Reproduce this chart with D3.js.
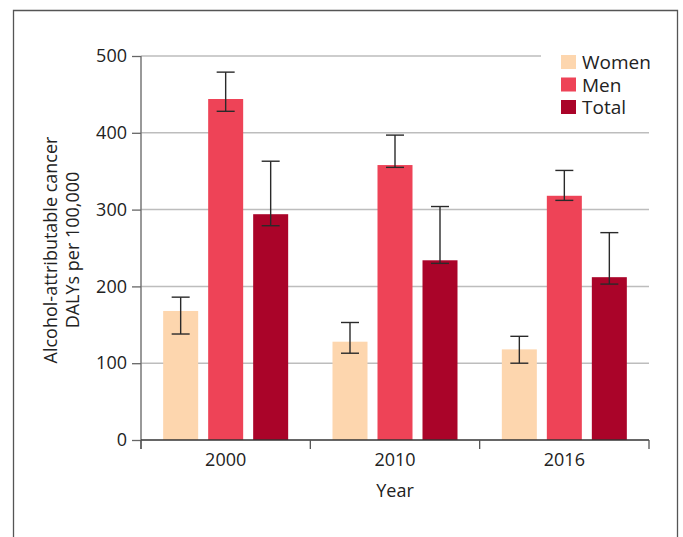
<!DOCTYPE html>
<html><head><meta charset="utf-8">
<script src="https://cdn.jsdelivr.net/npm/d3@7"></script>
<style>
html,body{margin:0;padding:0;background:#fff;}
svg{display:block;font-family:"Open Sans","Noto Sans",sans-serif;}
</style></head>
<body>
<svg id="chart" width="683" height="537"></svg>
<script>
const years = ["2000", "2010", "2016"];
const seriesNames = ["Women", "Men", "Total"];
const colors = ["#FDD6AE", "#EE4357", "#AA0429"];
const womenValues = [168, 128, 118];
const menValues = [444, 358, 318];
const totalValues = [294, 234, 212];
const womenLow = [138, 113, 100];
const womenHigh = [186, 153, 135];
const menLow = [428, 355, 312];
const menHigh = [479, 397, 351];
const totalLow = [279, 230, 203];
const totalHigh = [363, 304, 270];
const yTicks = [0, 100, 200, 300, 400, 500];

const values = [womenValues, menValues, totalValues];
const lows = [womenLow, menLow, totalLow];
const highs = [womenHigh, menHigh, totalHigh];

const svg = d3.select("#chart");
const pLeft = 141, pRight = 649, pTop = 56, pBottom = 440;

// frame
svg.append("path")
  .attr("d", `M13.5,537 V10.5 H677.5 V537`)
  .attr("fill", "none").attr("stroke", "#555").attr("stroke-width", 1.3);

const x0 = d3.scaleBand().domain(years).range([pLeft, pRight]).padding(0);
const x1 = d3.scaleBand().domain(seriesNames).range([0, 125]).paddingInner(10/45).paddingOuter(0);
const y = d3.scaleLinear().domain([0, 500]).range([pBottom, pTop]);

// gridlines
svg.append("g").selectAll("line").data(yTicks.filter(t => t > 0)).join("line")
  .attr("x1", pLeft).attr("x2", t => t === 500 ? 541 : pRight)
  .attr("y1", t => y(t)).attr("y2", t => y(t))
  .attr("stroke", "#bdbdbd").attr("stroke-width", 1.5);

// bars
const groups = svg.append("g").selectAll("g").data(years).join("g")
  .attr("transform", d => `translate(${x0(d) + (x0.bandwidth() - 125) / 2},0)`);

seriesNames.forEach((s, si) => {
  groups.append("rect")
    .attr("x", x1(s))
    .attr("width", x1.bandwidth())
    .attr("y", (d, i) => y(values[si][i]))
    .attr("height", (d, i) => pBottom - y(values[si][i]))
    .attr("fill", colors[si]);
});

// error bars
seriesNames.forEach((s, si) => {
  const g = groups.append("g").attr("stroke", "#2a2a2a").attr("stroke-width", 1.4);
  const cx = x1(s) + x1.bandwidth() / 2;
  g.append("line").attr("x1", cx).attr("x2", cx)
    .attr("y1", (d, i) => y(highs[si][i])).attr("y2", (d, i) => y(lows[si][i]));
  g.append("line").attr("x1", cx - 9).attr("x2", cx + 9)
    .attr("y1", (d, i) => y(highs[si][i])).attr("y2", (d, i) => y(highs[si][i]));
  g.append("line").attr("x1", cx - 9).attr("x2", cx + 9)
    .attr("y1", (d, i) => y(lows[si][i])).attr("y2", (d, i) => y(lows[si][i]));
});

// y axis
const yAxis = svg.append("g").attr("transform", `translate(${pLeft},0)`)
  .call(d3.axisLeft(y).tickValues(yTicks).tickSize(9).tickPadding(5));
yAxis.select(".domain").attr("d", `M0,${pTop}V${pBottom + 9}`).attr("stroke", "#777").attr("stroke-width", 1.5);
yAxis.selectAll(".tick line").attr("stroke", "#666").attr("stroke-width", 1.3);
yAxis.selectAll(".tick text").attr("font-size", 18).attr("fill", "#222")
  .attr("font-family", "'Open Sans', sans-serif");

// x axis
const xAxis = svg.append("g").attr("transform", `translate(0,${pBottom})`)
  .call(d3.axisBottom(x0).tickSize(0).tickPadding(14));
xAxis.select(".domain").attr("d", `M${pLeft},0H${pRight}`).attr("stroke", "#333").attr("stroke-width", 1.3);
xAxis.selectAll(".tick text").attr("font-size", 18).attr("fill", "#222")
  .attr("y", 26).attr("dy", 0)
  .attr("font-family", "'Open Sans', sans-serif");
svg.append("g").selectAll("line").data(years.concat(["end"])).join("line")
  .attr("x1", (d, i) => i < years.length ? x0(d) : pRight)
  .attr("x2", (d, i) => i < years.length ? x0(d) : pRight)
  .attr("y1", pBottom).attr("y2", pBottom + 9)
  .attr("stroke", "#555").attr("stroke-width", 1.3);

// axis titles
svg.append("text").attr("x", (pLeft + pRight) / 2).attr("y", 497)
  .attr("text-anchor", "middle").attr("font-size", 18).attr("fill", "#222").text("Year");
const yt = svg.append("text").attr("transform", `translate(50,250) rotate(-90)`)
  .attr("text-anchor", "middle").attr("font-size", 18).attr("fill", "#222");
yt.append("tspan").attr("x", 0).attr("y", 7).text("Alcohol-attributable cancer");
yt.append("tspan").attr("x", 0).attr("y", 29).text("DALYs per 100,000");

// legend
const lg = svg.append("g").selectAll("g").data(seriesNames).join("g")
  .attr("transform", (d, i) => `translate(561,${55 + i * 22.5})`);
lg.append("rect").attr("width", 15).attr("height", 14).attr("fill", (d, i) => colors[i]);
lg.append("text").attr("x", 21).attr("y", 14.3).attr("font-size", 19).attr("fill", "#222").text(d => d);
</script>
</body></html>
